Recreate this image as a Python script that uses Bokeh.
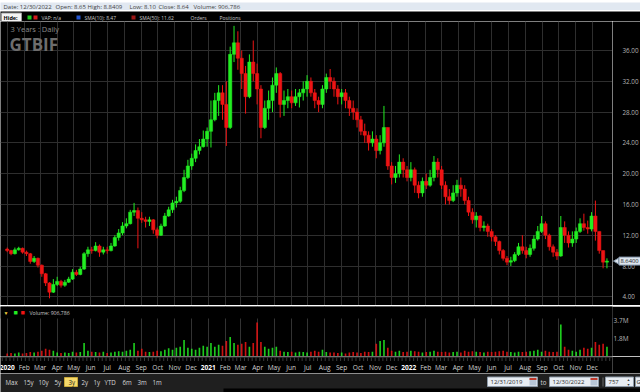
import math
import pandas as pd
from bokeh.plotting import figure
from bokeh.models import (Range1d, FixedTicker, CustomJSTickFormatter,
                          ColumnDataSource, Label, BoxAnnotation, Span)
from bokeh.layouts import column, row
from bokeh.embed import file_html
from bokeh.resources import INLINE
from bokeh.core.properties import value

# ---------------- data: weekly OHLC / volume ----------------
first_week = "2020-01-01"
opens = [10.2,10.0,9.6,10.1,10.3,9.8,9.6,8.6,9.0,8.1,
         7.0,5.8,4.6,5.6,6.0,5.5,5.9,6.3,7.2,6.9,
         7.6,9.6,10.1,10.0,10.6,9.8,10.1,10.0,10.6,11.7,
         12.3,13.2,13.5,15.0,15.2,14.2,14.0,13.8,14.0,12.7,
         12.0,13.2,14.5,15.3,16.2,16.4,17.8,19.5,21.0,22.0,
         23.0,23.5,24.5,25.5,27.0,29.5,30.5,29.0,26.0,35.5,
         37.0,35.0,33.0,30.0,34.5,33.0,31.0,26.0,28.5,29.5,
         31.5,33.0,29.0,29.5,30.0,29.2,30.0,30.5,31.0,32.0,
         30.5,29.5,29.0,31.0,32.5,32.0,31.0,30.0,30.5,29.5,
         28.5,28.0,27.0,25.5,25.0,24.0,24.5,23.0,24.0,26.0,
         21.0,19.5,20.0,21.5,20.5,19.5,20.5,18.5,17.5,19.0,
         18.5,19.5,21.5,20.5,18.5,17.0,16.5,17.5,18.5,18.0,
         16.5,15.0,14.0,14.5,13.0,13.2,12.5,11.8,11.2,10.0,
         9.0,8.5,8.7,9.5,10.5,10.0,9.5,10.3,11.5,12.5,
         13.5,12.0,10.5,9.8,9.3,13.0,12.0,11.0,11.5,12.5,
         13.5,13.0,12.8,14.5,12.5,10.0,8.5]
highs = [10.4,10.1,10.4,10.5,10.4,10.0,9.7,9.3,9.1,8.2,
         7.1,5.9,6.3,6.6,6.2,6.2,6.6,7.6,7.5,7.9,
         9.8,10.5,10.5,11.1,10.8,10.5,10.5,11.0,12.0,12.8,
         13.7,14.2,15.3,16.2,15.6,15.0,14.4,14.4,14.1,13.0,
         13.5,14.9,15.7,16.6,17.0,18.3,20.5,21.8,22.6,23.8,
         24.5,25.6,26.0,29.5,30.5,31.5,31.5,32.0,36.5,39.2,
         38.5,36.0,34.0,35.5,37.3,34.3,31.5,29.5,30.8,32.5,
         33.8,33.2,30.8,31.0,30.8,31.0,31.0,32.0,32.8,32.5,
         31.0,30.0,31.5,33.0,33.6,32.5,31.5,31.0,31.0,30.0,
         29.5,28.5,27.5,26.5,25.5,25.5,25.0,25.0,28.8,26.0,
         21.5,21.0,22.5,22.0,21.0,21.5,20.8,19.0,19.5,20.0,
         20.5,22.3,22.0,21.0,19.0,18.0,18.5,19.2,19.5,18.5,
         17.0,15.5,15.0,14.6,13.8,13.5,12.8,12.0,11.3,10.2,
         9.3,9.2,9.8,11.0,12.0,10.5,10.8,12.0,13.2,14.5,
         13.8,12.2,10.8,10.2,14.5,13.8,12.5,12.5,13.0,14.2,
         14.8,13.9,15.0,16.5,12.5,10.0,9.0]
lows = [9.8,9.4,9.5,10.0,9.6,9.3,8.3,8.4,7.8,6.6,
        5.4,3.8,4.5,5.4,5.2,5.3,5.8,6.2,6.7,6.8,
        7.5,9.2,9.6,9.9,9.2,9.5,9.6,9.9,10.5,11.3,
        12.0,12.9,13.4,14.5,10.3,13.6,13.0,13.2,12.2,11.6,
        11.9,13.1,14.4,14.9,15.6,16.2,17.6,19.3,20.5,21.5,
        22.5,23.4,23.5,23.4,26.8,27.5,27.0,23.6,25.8,34.5,
        33.5,31.0,27.8,29.8,32.0,29.0,24.6,25.8,27.0,28.0,
        30.5,27.3,27.5,28.5,28.5,28.8,28.6,29.5,30.0,30.0,
        28.5,28.0,28.5,30.5,31.0,30.0,29.0,29.0,28.5,27.5,
        27.0,26.0,25.0,24.0,23.0,23.5,22.0,22.5,23.5,20.5,
        18.6,18.8,19.5,19.5,19.0,19.0,17.5,16.8,17.0,18.0,
        18.3,19.0,19.5,18.0,16.0,16.0,16.3,17.0,17.0,16.0,
        14.5,13.5,13.0,12.5,12.5,11.8,11.2,10.6,9.5,8.7,
        8.1,8.0,8.5,9.3,9.6,9.0,9.2,10.0,11.3,12.3,
        11.5,10.0,9.2,8.8,9.2,11.0,10.4,10.5,11.0,12.3,
        12.6,12.2,12.5,11.3,9.6,7.7,7.7]
closes = [10.0,9.6,10.1,10.3,9.8,9.6,8.6,9.0,8.1,7.0,
          5.8,4.6,5.6,6.0,5.5,5.9,6.3,7.2,6.9,7.6,
          9.6,10.1,10.0,10.6,9.8,10.1,10.0,10.6,11.7,12.3,
          13.2,13.5,15.0,15.2,14.2,14.0,13.8,14.0,12.7,12.0,
          13.2,14.5,15.3,16.2,16.4,17.8,19.5,21.0,22.0,23.0,
          23.5,24.5,25.5,27.0,29.5,30.5,29.0,26.0,35.5,37.0,
          35.0,33.0,30.0,34.5,33.0,31.0,26.0,28.5,29.5,31.5,
          33.0,29.0,29.5,30.0,29.2,30.0,30.5,31.0,32.0,30.5,
          29.5,29.0,31.0,32.5,32.0,31.0,30.0,30.5,29.5,28.5,
          28.0,27.0,25.5,25.0,24.0,24.5,23.0,24.0,26.0,21.0,
          19.5,20.0,21.5,20.5,19.5,20.5,18.5,17.5,19.0,18.5,
          19.5,21.5,20.5,18.5,17.0,16.5,17.5,18.5,18.0,16.5,
          15.0,14.0,14.5,13.0,13.2,12.5,11.8,11.2,10.0,9.0,
          8.5,8.7,9.5,10.5,10.0,9.5,10.3,11.5,12.5,13.5,
          12.0,10.5,9.8,9.3,13.0,12.0,11.0,11.5,12.5,13.5,
          13.0,12.8,14.5,12.5,10.0,8.5,8.64]
volumes_m = [0.3,0.35,0.3,0.4,0.3,0.35,0.45,0.4,0.5,0.6,
             0.8,0.7,0.6,
             0.4,0.35,0.4,0.35,0.5,0.4,0.45,
             1.4,
             0.6,0.5,0.45,0.4,0.5,0.35,0.4,0.5,0.55,0.5,0.6,0.7,
             1.4,
             0.6,0.8,0.5,0.45,0.5,0.6,0.55,
             0.7,0.85,0.7,0.9,
             1.0,1.7,
             0.9,0.8,0.7,0.9,1.1,1.0,
             1.4,1.0,1.2,1.1,1.6,2.0,
             1.4,1.2,1.3,1.5,1.0,1.4,3.5,1.5,
             1.0,0.8,0.9,1.0,
             0.6,0.5,0.45,0.5,0.4,0.5,0.45,0.4,0.5,0.6,0.5,0.7,0.45,0.4,
             0.4,0.35,0.4,0.3,0.4,0.45,0.4,0.35,0.5,0.45,0.5,
             1.3,1.6,1.7,0.9,
             0.6,0.5,0.6,0.45,0.5,0.6,0.55,0.5,0.4,0.45,0.5,
             0.6,0.5,0.45,0.5,0.4,0.45,0.5,0.4,0.6,0.5,0.55,0.5,0.45,0.4,0.5,
             0.45,0.5,0.55,0.6,0.5,0.45,0.4,0.5,0.45,0.5,0.55,0.6,0.7,0.5,0.6,
             0.5,0.45,0.5,
             3.3,
             1.0,0.7,0.6,0.5,0.7,0.9,0.8,0.9,
             1.5,1.2,1.3,1.0]
price_ticks = [4, 8, 12, 16, 20, 24, 28, 32, 36]
price_tick_labels = ["4.00", "8.00", "12.00", "16.00", "20.00", "24.00", "28.00", "32.00", "36.00"]
volume_ticks_m = [1.8, 3.7]
month_abbr = ["Jan", "Feb", "Mar", "Apr", "May", "Jun", "Jul", "Aug", "Sep", "Oct", "Nov", "Dec"]
last_close = 8.64
chart_title = "GTBIF"
chart_subtitle = "3 Years : Daily"
header_fields = ["Date: 12/30/2022", "Open: 8.65", "High: 8.8409", "Low: 8.10",
                 "Close: 8.64", "Volume: 906,786"]
legend_items = ["VAP: n/a", "SMA(10): 8.47", "SMA(50): 11.62", "Orders", "Positions"]
volume_title = "Volume: 906,786"
period_buttons = ["Max", "15y", "10y", "5y", "3y", "2y", "1y", "YTD", "6m", "3m", "1m"]
date_from, date_to, bar_count = "12/31/2019", "12/30/2022", "757"

# ---------------- styling ----------------
UP, DOWN = "#22ee22", "#ee1414"
FONT = "Open Sans"
DAY = 86400000
GRID = "#2e2e2e"
EPOCH = pd.Timestamp("1970-01-01")


def ms(ts):
    return (ts - EPOCH) // pd.Timedelta(milliseconds=1)


dates = pd.date_range(first_week, periods=len(closes), freq="7D")
colors = [UP if c >= o else DOWN for o, c in zip(opens, closes)]
src = ColumnDataSource(dict(date=dates, open=opens, high=highs, low=lows, close=closes,
                            vol=[v * 1e6 for v in volumes_m], color=colors))

month_starts = pd.date_range("2020-01-01", "2022-12-01", freq="MS")
month_ms = [ms(t) for t in month_starts]
month_labels = [str(t.year) if t.month == 1 else month_abbr[t.month - 1] for t in month_starts]

origin = pd.Timestamp("2020-01-01")
xr = Range1d(start=ms(origin - pd.Timedelta(days=12.2)), end=ms(origin + pd.Timedelta(days=1102.1)))


def data_fig(frame_h, y_range, right_axis=True, right_border=28):
    f = figure(frame_width=612, frame_height=frame_h, x_range=xr, y_range=y_range,
               x_axis_type="datetime", x_axis_location=None,
               y_axis_location="right" if right_axis else None,
               toolbar_location=None, output_backend="svg",
               background_fill_color="black", border_fill_color="black",
               outline_line_color=None, min_border=0, min_border_right=right_border)
    return f


def style_axis(ax, size, standoff):
    ax.axis_line_color = None
    ax.major_tick_line_color = None
    ax.minor_tick_line_color = None
    ax.major_tick_out = 0
    ax.major_tick_in = 0
    ax.minor_tick_out = 0
    ax.minor_tick_in = 0
    ax.major_label_standoff = standoff
    ax.major_label_text_color = "#b4b4b4"
    ax.major_label_text_font = FONT
    ax.major_label_text_font_size = size


class Chrome:
    def __init__(self, top, h, bg, w=640):
        self.top, self.h = top, h
        self.fig = figure(frame_width=w, frame_height=h, x_range=Range1d(0, w),
                          y_range=Range1d(0, h), x_axis_location=None, y_axis_location=None,
                          toolbar_location=None, output_backend="svg",
                          background_fill_color=bg, border_fill_color=bg,
                          outline_line_color=None, min_border=0)
        self.fig.grid.visible = False

    def gy(self, g):
        return self.top + self.h - g

    def text(self, x, g, s, size, color, bold=False, align="left"):
        self.fig.add_layout(Label(x=x, y=self.gy(g), text=s, text_font=FONT, text_font_size=size,
                                  text_color=color, text_font_style="bold" if bold else "normal",
                                  text_align=align, text_baseline="middle"))

    def box(self, l, r, gt, gb, fill, line=None):
        self.fig.add_layout(BoxAnnotation(left=l, right=r, top=self.gy(gt), bottom=self.gy(gb),
                                          fill_color=fill, fill_alpha=1,
                                          line_color=line if line else fill,
                                          line_alpha=1 if line else 0, line_width=1))


# ---------------- header rows ----------------
hdr1 = Chrome(0, 10, "#e1e8f1")
hdr1.box(0, 640, 9, 10, "#c3ccd7")
for x, s in zip([3, 55, 87, 129, 158, 193], header_fields):
    hdr1.text(x, 4.8, s, "6px", "#3e3e3e")

hdr2 = Chrome(10, 11, "#000000")
hdr2.box(1, 21, 11.5, 20.5, "#f3f3f3", "#9a9a9a")
hdr2.text(3, 16, "Hide:", "5.5px", "#000000", bold=True)
hdr2.box(27, 31, 14, 18, "#1ecb1e")
hdr2.box(33, 37, 14, 18, "#d41b1b")
hdr2.box(76, 80, 14, 18, "#2456d0")
hdr2.box(131, 135, 14, 18, "#9c1616")
for x, s in zip([41, 84, 139, 190, 219], legend_items):
    hdr2.text(x, 16, s, "5px", "#c8c8c8")

# ---------------- price panel ----------------
price_y = Range1d(2.87, 39.77)
price = data_fig(284, price_y, right_axis=False, right_border=0)
price.xgrid.ticker = FixedTicker(ticks=month_ms)
price.ygrid.ticker = FixedTicker(ticks=price_ticks)
price.xgrid.grid_line_color = GRID
price.ygrid.grid_line_color = GRID

price.segment(x0="date", y0="high", x1="date", y1="low", source=src, line_color="color", line_width=1)
price.vbar(x="date", width=6 * DAY, top="open", bottom="close", source=src,
           fill_color="color", line_color="color", line_width=0.5)

price.add_layout(Label(x=10, y=282, x_units="screen", y_units="screen", text=chart_subtitle,
                       text_font=FONT, text_font_size="7.5px", text_color="#8c8c8c", text_baseline="top"))
price.add_layout(Label(x=9, y=273, x_units="screen", y_units="screen", text=chart_title,
                       text_font=FONT, text_font_size="17px", text_font_style="bold",
                       text_color="#6d6d6d", text_baseline="top"))

# right-hand price scale (shares the price y range)
pscale = figure(frame_width=28, frame_height=284, x_range=Range1d(0, 28), y_range=price_y,
                x_axis_location=None, y_axis_location=None, toolbar_location=None,
                output_backend="svg", background_fill_color="black", border_fill_color="black",
                outline_line_color=None, min_border=0)
pscale.grid.visible = False
pscale.text(x=10, y=price_ticks, text=price_tick_labels, text_font=value(FONT),
            text_font_size="6.3px", text_color="#b4b4b4", text_baseline="middle")
pscale.scatter(x=[4.5], y=[last_close], marker="triangle", angle=math.pi / 2, size=6,
               fill_color="#dde5ee", line_color="#8597ab")
pscale.rect(x=[17.5], y=[last_close], width=22, height=8, height_units="screen",
            fill_color="#dde5ee", line_color="#8597ab")
pscale.text(x=8, y=[last_close], text=[f"{last_close:.4f}"], text_font=value(FONT),
            text_font_size="5.8px", text_color="#222222", text_baseline="middle")

# separator
sep = Chrome(305, 1, "#555555")

# ---------------- volume panel ----------------
vol = data_fig(50, Range1d(0, 5.14e6))
vol.xgrid.ticker = FixedTicker(ticks=month_ms)
vol.xgrid.grid_line_color = "#333333"
vol.ygrid.visible = False
vax = vol.yaxis[0]
vax.ticker = FixedTicker(ticks=[v * 1e6 for v in volume_ticks_m])
vax.formatter = CustomJSTickFormatter(code="return (tick / 1e6).toFixed(1) + 'M';")
style_axis(vax, "6.5px", 1)
vol.vbar(x="date", width=3 * DAY, top="vol", bottom=0, source=src,
         fill_color="color", line_color=None, fill_alpha=0.85)
vol.add_layout(BoxAnnotation(bottom=3.9e6, fill_color="black", fill_alpha=1, line_alpha=0))
for x, s, c, fs in [(3, "\u25BC", "#f0d040", "5px"), (13, "\u25A0", UP, "7px"),
                    (20, "\u25A0", DOWN, "7px"), (29, volume_title, "#c8c8c8", "5.2px")]:
    vol.add_layout(Label(x=x, y=44, x_units="screen", y_units="screen", text=s, text_font=FONT,
                         text_font_size=fs, text_color=c, text_baseline="middle"))

# ---------------- date axis strip ----------------
xs = data_fig(17, Range1d(0, 17), right_axis=False)
xs.grid.visible = False
xs.add_layout(Span(location=16.5, dimension="width", line_color="#4a4a4a", line_width=1))
week_ticks = pd.date_range("2019-12-23", "2023-01-02", freq="W-MON")
xs.segment(x0=week_ticks, y0=16, x1=week_ticks, y1=12.5, line_color="#3a3a3a", line_width=1)
mon = [i for i, t in enumerate(month_starts) if t.month != 1]
yrs = [i for i, t in enumerate(month_starts) if t.month == 1]
xs.text(x=[month_starts[i] for i in mon], y=6, text=[month_labels[i] for i in mon],
        text_font=value(FONT), text_font_size="6.6px", text_color="#cfcfcf",
        text_align="center", text_baseline="middle")
xs.text(x=[month_starts[i] for i in yrs], y=6, text=[month_labels[i] for i in yrs],
        text_font=value(FONT), text_font_size="6.6px", text_font_style="bold",
        text_color="#ffffff", text_align="center", text_baseline="middle")

# ---------------- bottom toolbar ----------------
tb = Chrome(373, 19, "#1f1f1f")
tb.box(223, 640, 388, 392, "#000000")
tb.box(64, 77, 377, 386, "#f6d96b", "#c9a93a")
for x, s in zip([5, 23, 38, 54, 68, 81, 93, 104, 122, 137, 152], period_buttons):
    tb.text(x, 381.5, s, "6.2px", "#222222" if s == "3y" else "#d8d8d8")
for l, r, s in [(487, 537, date_from), (549, 598, date_to)]:
    tb.box(l, r, 376.5, 386, "#e8edf3", "#8d9aa8")
    tb.text(l + 3, 381.5, s, "6px", "#2a2a2a")
    tb.box(r - 8, r - 1, 377.5, 385, "#b7c5d6")
    tb.box(r - 8, r - 1, 377.5, 379.5, "#c0392b")
tb.text(540, 381.5, "to", "6.2px", "#d8d8d8")
tb.box(602, 603, 377, 386, "#6a6a6a")
tb.box(605, 633, 376.5, 386, "#e8edf3", "#8d9aa8")
tb.text(608, 381.5, bar_count, "6px", "#2a2a2a")
tb.text(628, 379.2, "\u25B2", "3.5px", "#333333", align="center")
tb.text(628, 383.6, "\u25BC", "3.5px", "#333333", align="center")
tb.box(635, 640, 376.5, 386, "#e8edf3", "#8d9aa8")
tb.text(636, 381.5, "G", "6px", "#222222")

layout = column(hdr1.fig, hdr2.fig, row(price, pscale, spacing=0), sep.fig, vol, xs, tb.fig, spacing=0)
open("out.html", "w").write(file_html(layout, INLINE))
